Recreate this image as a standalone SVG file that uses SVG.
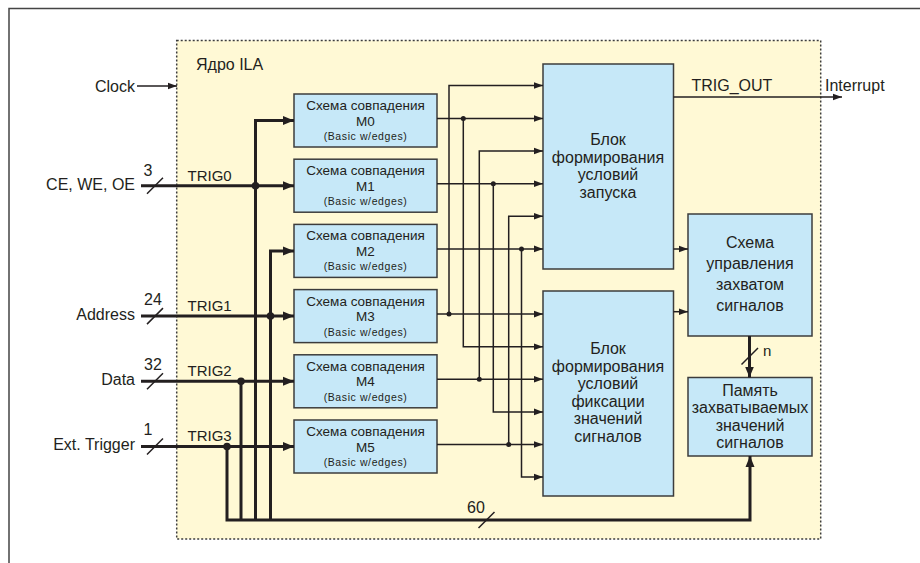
<svg xmlns="http://www.w3.org/2000/svg" width="920" height="563" viewBox="0 0 920 563">
<style>
text{font-family:"Liberation Sans",Arial,sans-serif;fill:#231f20}
.lbl{font-size:16px;text-anchor:end}
.trig{font-size:15px}
.num{font-size:16px;text-anchor:middle}
.box{fill:#c6e8f8;stroke:#3c3c3c;stroke-width:1.5}
.t1{font-size:13.5px;text-anchor:middle}
.t3{font-size:10.5px;text-anchor:middle;letter-spacing:0.6px}
.big{font-size:16px;text-anchor:middle}
.thin{fill:none;stroke:#231f20;stroke-width:1.5}
.thick{fill:none;stroke:#231f20;stroke-width:3}
.sl{fill:none;stroke:#231f20;stroke-width:1.5}
.dot{fill:#231f20}
</style>
<defs>
<marker id="a" markerWidth="10" markerHeight="8" refX="9.5" refY="4" orient="auto" markerUnits="userSpaceOnUse"><path d="M0,0.5 L9.5,4 L0,7.5 z" fill="#231f20"/></marker>
<marker id="b" markerWidth="12" markerHeight="10" refX="11" refY="5" orient="auto" markerUnits="userSpaceOnUse"><path d="M0,0.5 L11,5 L0,9.5 z" fill="#231f20"/></marker>
</defs>
<rect x="9" y="8.5" width="1000" height="600" fill="#fff" stroke="#444" stroke-width="1.5"/>
<g id="ila">
<rect x="176.7" y="40.5" width="644" height="498.5" fill="#fff9d5" stroke="#3c3c3c" stroke-width="1.5" stroke-dasharray="2 2"/>
<text x="196" y="70" style="font-size:16px">Ядро ILA</text>
</g>
<g id="inputs">
<text class="lbl" x="135" y="91.7">Clock</text>
<text class="lbl" x="135" y="190">CE, WE, OE</text>
<text class="lbl" x="135" y="320">Address</text>
<text class="lbl" x="135" y="385">Data</text>
<text class="lbl" x="135" y="450">Ext. Trigger</text>
<text class="num" x="148" y="176">3</text>
<text class="num" x="153" y="305">24</text>
<text class="num" x="153" y="370">32</text>
<text class="num" x="148" y="435">1</text>
<text class="trig" x="187.5" y="181">TRIG0</text>
<text class="trig" x="187.5" y="311">TRIG1</text>
<text class="trig" x="187.5" y="376">TRIG2</text>
<text class="trig" x="187.5" y="441">TRIG3</text>
<text x="825" y="91" style="font-size:16px">Interrupt</text>
<text x="691.5" y="91" style="font-size:16px">TRIG_OUT</text>
<text x="763" y="356" style="font-size:15px">n</text>
<text class="num" x="476" y="513">60</text>
</g>
<g id="m0"><rect class="box" x="294" y="94" width="143" height="53"/><text class="t1" x="365.5" y="110">Схема совпадения</text><text class="t1" x="365.5" y="125.5">M0</text><text class="t3" x="365.5" y="140">(Basic w/edges)</text></g>
<g id="m1"><rect class="box" x="294" y="159.2" width="143" height="53"/><text class="t1" x="365.5" y="175.2">Схема совпадения</text><text class="t1" x="365.5" y="190.7">M1</text><text class="t3" x="365.5" y="205.2">(Basic w/edges)</text></g>
<g id="m2"><rect class="box" x="294" y="224.4" width="143" height="53"/><text class="t1" x="365.5" y="240.4">Схема совпадения</text><text class="t1" x="365.5" y="255.9">M2</text><text class="t3" x="365.5" y="270.4">(Basic w/edges)</text></g>
<g id="m3"><rect class="box" x="294" y="289.6" width="143" height="53"/><text class="t1" x="365.5" y="305.6">Схема совпадения</text><text class="t1" x="365.5" y="321.1">M3</text><text class="t3" x="365.5" y="335.6">(Basic w/edges)</text></g>
<g id="m4"><rect class="box" x="294" y="354.8" width="143" height="53"/><text class="t1" x="365.5" y="370.8">Схема совпадения</text><text class="t1" x="365.5" y="386.3">M4</text><text class="t3" x="365.5" y="400.8">(Basic w/edges)</text></g>
<g id="m5"><rect class="box" x="294" y="420" width="143" height="53"/><text class="t1" x="365.5" y="436">Схема совпадения</text><text class="t1" x="365.5" y="451.5">M5</text><text class="t3" x="365.5" y="466">(Basic w/edges)</text></g>
<g id="trigblock"><rect class="box" x="543" y="64" width="130.5" height="205"/>
<text class="big" x="608" y="145">Блок</text><text class="big" x="608" y="162.5">формирования</text><text class="big" x="608" y="180">условий</text><text class="big" x="608" y="197.5">запуска</text></g>
<g id="capblock"><rect class="box" x="543" y="291" width="130.5" height="205"/>
<text class="big" x="608" y="354">Блок</text><text class="big" x="608" y="371.5">формирования</text><text class="big" x="608" y="389">условий</text><text class="big" x="608" y="406.5">фиксации</text><text class="big" x="608" y="424">значений</text><text class="big" x="608" y="441.5">сигналов</text></g>
<g id="ctrl"><rect class="box" x="688" y="214" width="124" height="122"/>
<text class="big" x="750" y="248">Схема</text><text class="big" x="750" y="269">управления</text><text class="big" x="750" y="290">захватом</text><text class="big" x="750" y="311">сигналов</text></g>
<g id="mem"><rect class="box" x="688" y="377.5" width="124" height="78.5"/>
<text class="big" x="750" y="396">Память</text><text class="big" x="750" y="413.3">захватываемых</text><text class="big" x="750" y="430.5">значений</text><text class="big" x="750" y="448">сигналов</text></g>
<g id="connectors">
<path class="thin" d="M137,86 H177" marker-end="url(#a)"/>
<path class="thin" d="M673.5,97 H842" marker-end="url(#a)"/>
<path class="thick" d="M141,185.7 H294" marker-end="url(#b)"/>
<path class="thick" d="M141,316.1 H294" marker-end="url(#b)"/>
<path class="thick" d="M141,381.3 H294" marker-end="url(#b)"/>
<path class="thick" d="M141,446.5 H294" marker-end="url(#b)"/>
<path class="thick" d="M255.5,520 V120.5 H294" marker-end="url(#b)"/>
<path class="thick" d="M270.5,520 V250.9 H294" marker-end="url(#b)"/>
<path class="thick" d="M241,381.3 V520"/>
<path class="thick" d="M227,446.5 V520 H750 V456" marker-end="url(#b)"/>
<path class="thick" d="M749.5,336 V377.5" marker-end="url(#b)"/>
<circle class="dot" cx="255.5" cy="185.7" r="3.8"/>
<circle class="dot" cx="270.5" cy="316.1" r="3.8"/>
<circle class="dot" cx="241" cy="381.3" r="3.8"/>
<circle class="dot" cx="227" cy="446.5" r="3.8"/>
<path class="sl" d="M147,193.7 L163,177.7 M147,324.1 L163,308.1 M147,389.3 L163,373.3 M147,454.5 L163,438.5 M478.5,528 L494.5,512 M741.5,364.5 L758,348"/>
<path class="thin" d="M437,118.5 H543" marker-end="url(#a)"/>
<path class="thin" d="M437,183.7 H543" marker-end="url(#a)"/>
<path class="thin" d="M437,248.9 H543" marker-end="url(#a)"/>
<path class="thin" d="M437,314.1 H543" marker-end="url(#a)"/>
<path class="thin" d="M437,379.3 H543" marker-end="url(#a)"/>
<path class="thin" d="M437,444.5 H543" marker-end="url(#a)"/>
<path class="thin" d="M449,314.1 V85.5 H543" marker-end="url(#a)"/>
<path class="thin" d="M463.3,118.5 V346.7 H543" marker-end="url(#a)"/>
<path class="thin" d="M479.3,379.3 V151 H543" marker-end="url(#a)"/>
<path class="thin" d="M493.3,183.7 V411.9 H543" marker-end="url(#a)"/>
<path class="thin" d="M508.7,444.5 V216.3 H543" marker-end="url(#a)"/>
<path class="thin" d="M521.5,248.9 V477.1 H543" marker-end="url(#a)"/>
<circle class="dot" cx="449" cy="314.1" r="2.5"/>
<circle class="dot" cx="463.3" cy="118.5" r="2.5"/>
<circle class="dot" cx="479.3" cy="379.3" r="2.5"/>
<circle class="dot" cx="493.3" cy="183.7" r="2.5"/>
<circle class="dot" cx="508.7" cy="444.5" r="2.5"/>
<circle class="dot" cx="521.5" cy="248.9" r="2.5"/>
<path class="thin" d="M673.5,249 H688" marker-end="url(#a)"/>
<path class="thin" d="M673.5,311.7 H688" marker-end="url(#a)"/>
</g>
</svg>
